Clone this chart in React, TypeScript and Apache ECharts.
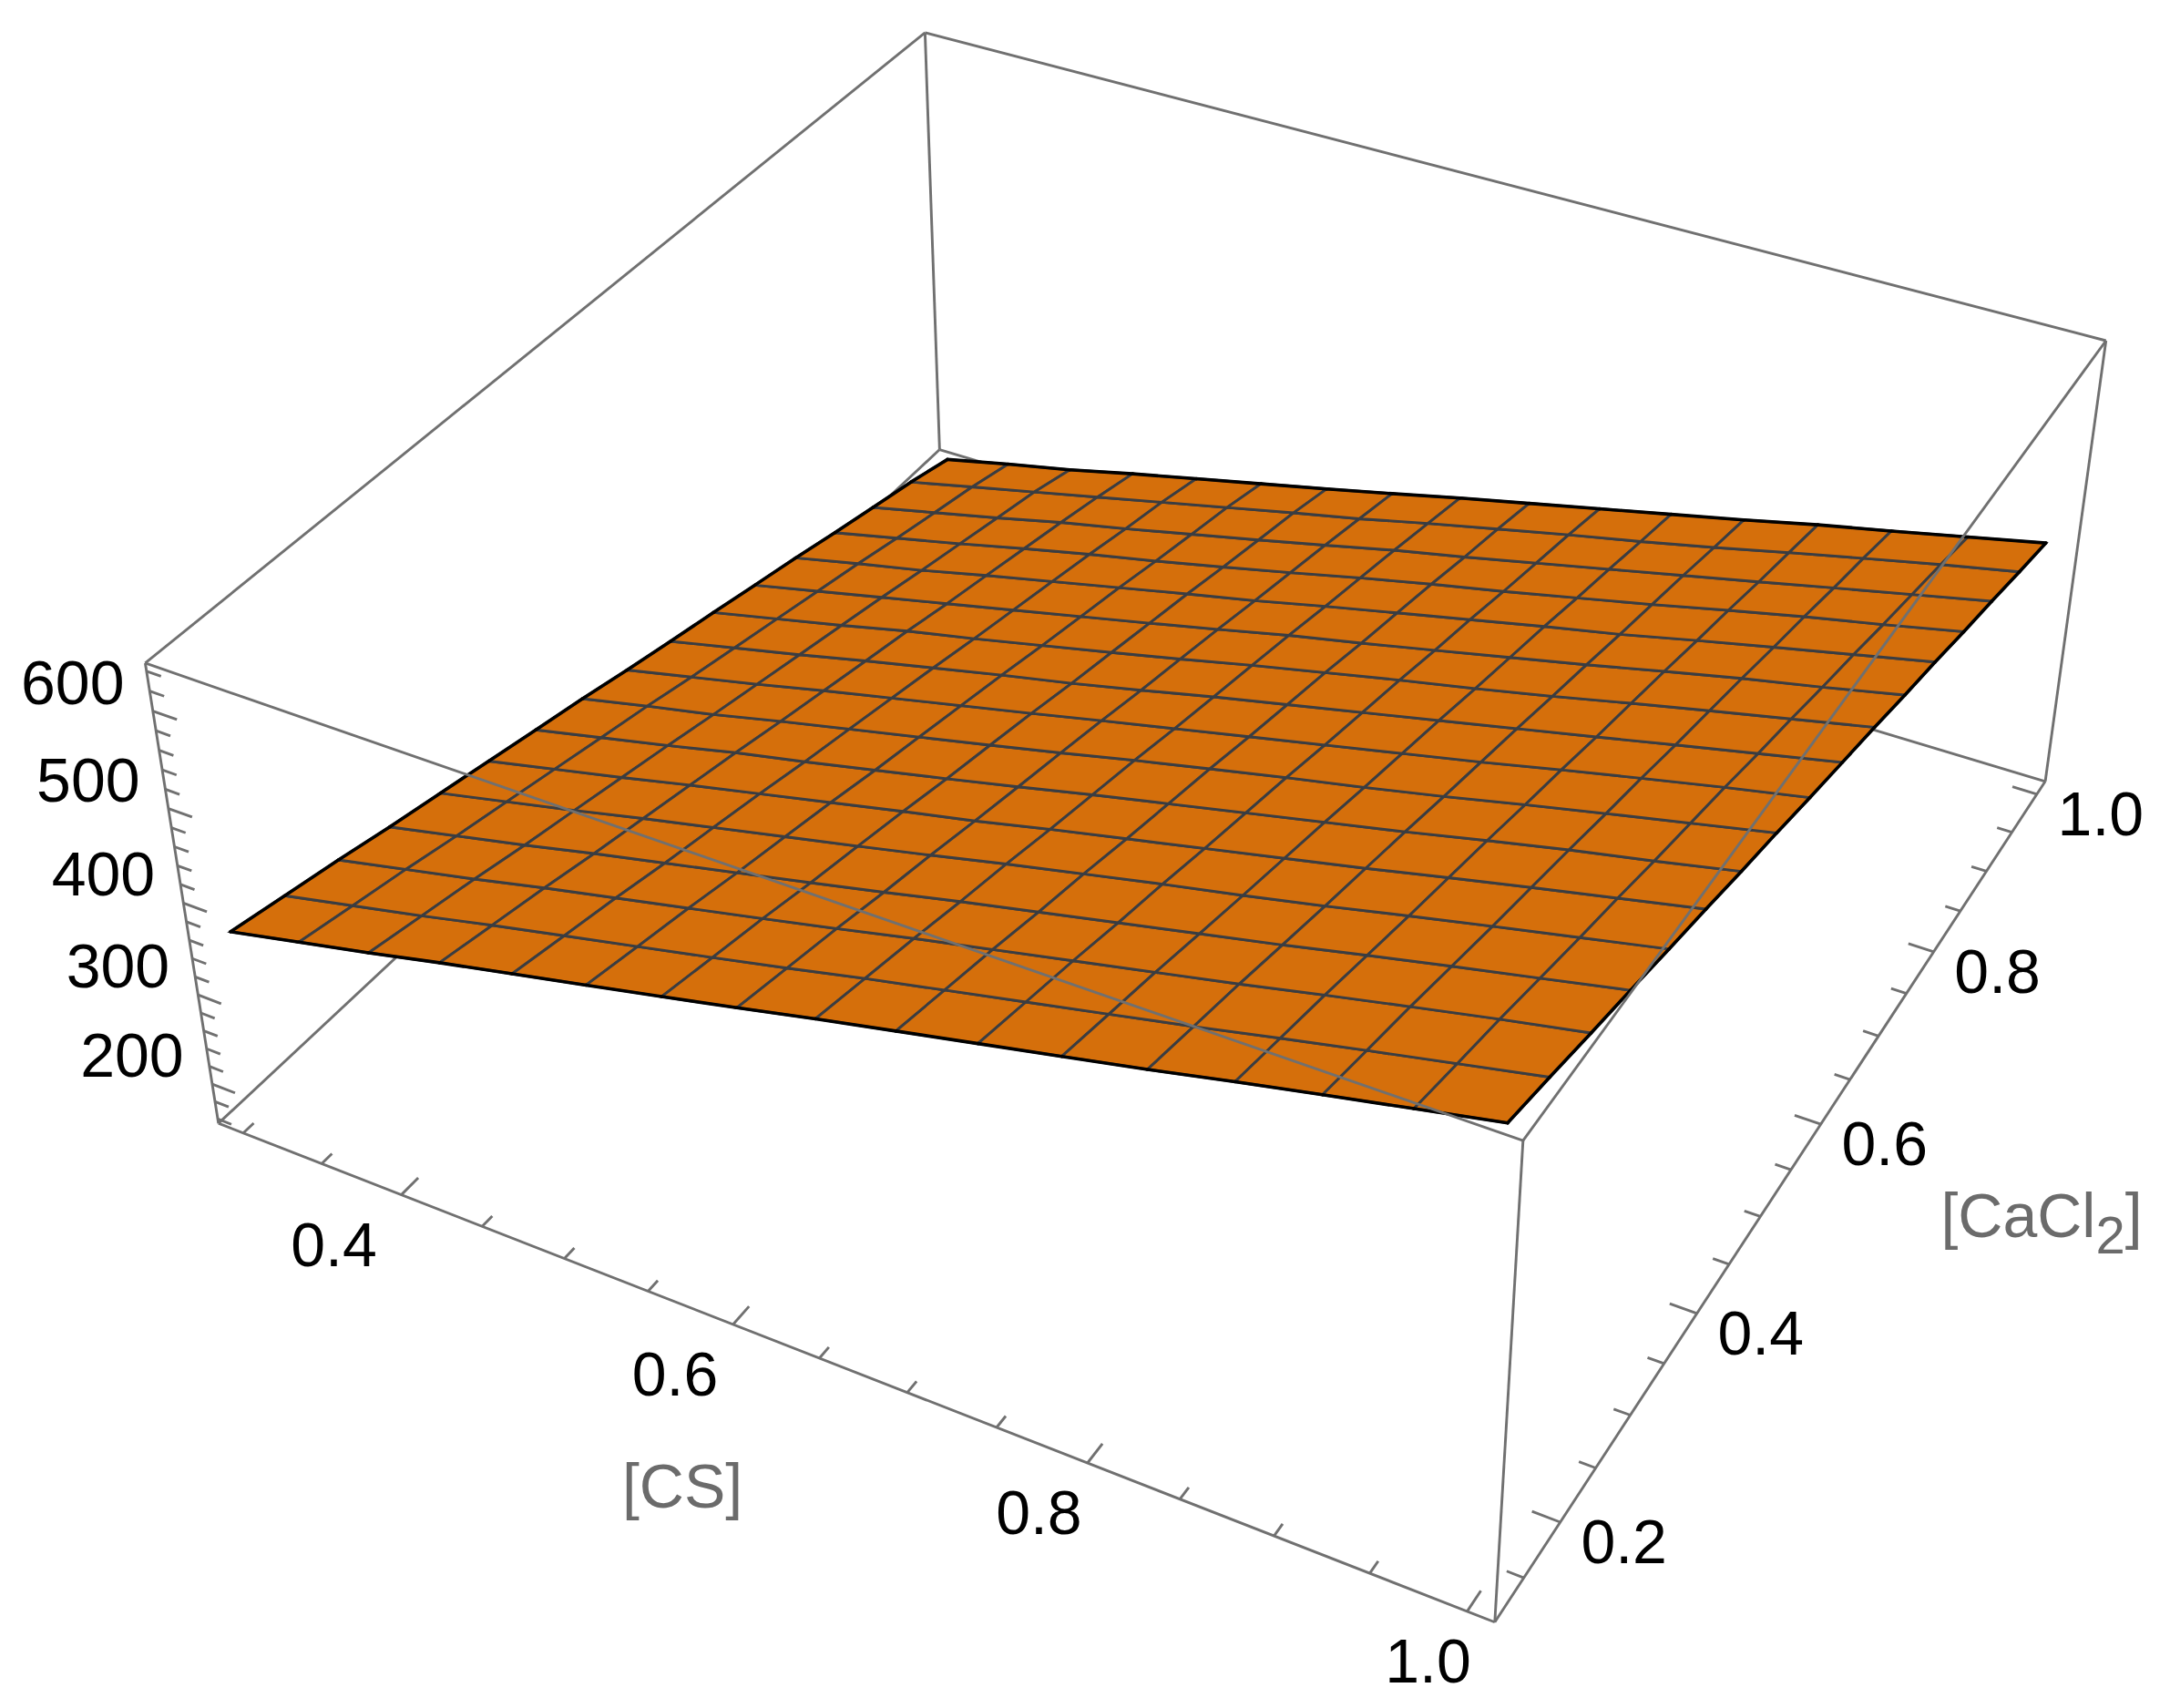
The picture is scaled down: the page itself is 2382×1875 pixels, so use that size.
import React, { useEffect, useRef } from "react";
import * as echarts from "echarts";

// ---------- data ----------
const csGrid = [0.298, 0.342, 0.386, 0.43, 0.474, 0.518, 0.562, 0.605, 0.649, 0.693, 0.737, 0.781, 0.825, 0.869, 0.912, 0.956, 1.0];
const caGrid = [0.13, 0.184, 0.239, 0.293, 0.348, 0.402, 0.456, 0.511, 0.565, 0.619, 0.674, 0.728, 0.783, 0.837, 0.891, 0.946, 1.0];
// rows: CaCl2 index, columns: CS index
const zRow00 = [360, 377, 394, 412, 429, 446, 463, 480, 498, 515, 532, 549, 566, 584, 601, 618, 635];
const zRow01 = [348, 365, 382, 400, 417, 434, 451, 468, 486, 503, 520, 537, 554, 572, 589, 606, 623];
const zRow02 = [336, 353, 370, 388, 405, 422, 439, 456, 474, 491, 508, 525, 542, 560, 577, 594, 610];
const zRow03 = [323, 340, 357, 375, 392, 409, 426, 443, 461, 478, 495, 512, 529, 547, 564, 581, 598];
const zRow04 = [311, 328, 345, 363, 380, 397, 414, 431, 449, 466, 483, 499, 516, 534, 551, 568, 585];
const zRow05 = [299, 316, 333, 351, 368, 385, 402, 418, 436, 453, 470, 487, 504, 522, 539, 556, 573];
const zRow06 = [287, 304, 321, 339, 355, 372, 389, 406, 424, 441, 458, 475, 492, 510, 527, 543, 560];
const zRow07 = [275, 292, 308, 326, 343, 360, 377, 394, 412, 429, 446, 462, 479, 497, 514, 531, 548];
const zRow08 = [262, 279, 296, 314, 331, 348, 365, 382, 399, 416, 433, 450, 467, 485, 502, 519, 535];
const zRow09 = [250, 267, 284, 302, 319, 336, 352, 369, 387, 404, 421, 438, 455, 472, 489, 506, 523];
const zRow10 = [238, 255, 272, 290, 306, 323, 340, 357, 375, 392, 409, 425, 442, 460, 477, 494, 511];
const zRow11 = [226, 243, 260, 277, 294, 311, 328, 345, 363, 379, 396, 413, 430, 448, 465, 481, 498];
const zRow12 = [214, 231, 247, 265, 282, 299, 316, 332, 350, 367, 384, 401, 417, 435, 452, 469, 486];
const zRow13 = [201, 218, 235, 253, 270, 286, 303, 320, 338, 355, 371, 388, 405, 423, 440, 456, 473];
const zRow14 = [189, 206, 223, 241, 257, 274, 291, 308, 326, 342, 359, 376, 393, 410, 427, 444, 461];
const zRow15 = [177, 194, 211, 228, 245, 262, 279, 295, 313, 330, 347, 363, 380, 398, 415, 432, 448];
const zRow16 = [163, 180, 196, 214, 231, 248, 265, 282, 300, 317, 334, 351, 368, 386, 402, 419, 436];
const zTable = [zRow00, zRow01, zRow02, zRow03, zRow04, zRow05, zRow06, zRow07, zRow08, zRow09, zRow10, zRow11, zRow12, zRow13, zRow14, zRow15, zRow16];

const csRange = [0.284, 1.014];
const caRange = [0.111, 1.017];
const zRange = [155, 648];

const csMajor = [0.4, 0.6, 0.8, 1.0];
const csMinor = [0.3, 0.35, 0.45, 0.5, 0.55, 0.65, 0.7, 0.75, 0.85, 0.9, 0.95];
const caMajor = [0.2, 0.4, 0.6, 0.8, 1.0];
const caMinor = [0.15, 0.25, 0.3, 0.35, 0.45, 0.5, 0.55, 0.65, 0.7, 0.75, 0.85, 0.9, 0.95];
const zMajor = [200, 300, 400, 500, 600];
const zMinor = [160, 180, 220, 240, 260, 280, 320, 340, 360, 380, 420, 440, 460, 480, 520, 540, 560, 580, 620, 640];

const csLabels = ["0.4", "0.6", "0.8", "1.0"];
const caLabels = ["0.2", "0.4", "0.6", "0.8", "1.0"];
const zLabels = ["200", "300", "400", "500", "600"];

// ---------- camera: fitted to the picture's box corners ----------
const boxFit: [number, number, number, number, number][] = [
  [0, 0, 0, 239, 1233],
  [1, 0, 0, 1641, 1780],
  [1, 1, 0, 2245, 858.6],
  [0, 1, 0, 1032, 493.5],
  [0, 0, 1, 160, 728],
  [1, 0, 1, 1672, 1253],
  [1, 1, 1, 2311.5, 373],
  [0, 1, 1, 1015, 36],
];

function solveCamera(): number[] {
  const n = 11;
  const A: number[][] = Array.from({ length: n }, () => new Array(n + 1).fill(0));
  const addRow = (r: number[], b: number) => {
    for (let i = 0; i < n; i++) {
      for (let j = 0; j < n; j++) A[i][j] += r[i] * r[j];
      A[i][n] += r[i] * b;
    }
  };
  for (const [X, Y, Z, x, y] of boxFit) {
    addRow([X, Y, Z, 1, 0, 0, 0, 0, -x * X, -x * Y, -x * Z], x);
    addRow([0, 0, 0, 0, X, Y, Z, 1, -y * X, -y * Y, -y * Z], y);
  }
  for (let c = 0; c < n; c++) {
    let p = c;
    for (let r = c + 1; r < n; r++) if (Math.abs(A[r][c]) > Math.abs(A[p][c])) p = r;
    [A[c], A[p]] = [A[p], A[c]];
    for (let r = 0; r < n; r++) {
      if (r === c) continue;
      const f = A[r][c] / A[c][c];
      for (let k = c; k <= n; k++) A[r][k] -= f * A[c][k];
    }
  }
  return A.map((row, i) => row[n] / row[i]);
}
const cam = solveCamera();

function project(cs: number, ca: number, z: number): [number, number] {
  const X = (cs - csRange[0]) / (csRange[1] - csRange[0]);
  const Y = (ca - caRange[0]) / (caRange[1] - caRange[0]);
  const Z = (z - zRange[0]) / (zRange[1] - zRange[0]);
  const d = cam[8] * X + cam[9] * Y + cam[10] * Z + 1;
  return [
    (cam[0] * X + cam[1] * Y + cam[2] * Z + cam[3]) / d,
    (cam[4] * X + cam[5] * Y + cam[6] * Z + cam[7]) / d,
  ];
}

// ---------- styles ----------
const FONT = "'Liberation Sans', Arial, sans-serif";
const BOX = "#707070";
const ORANGE = "#D56F0B";
const MESH = "#3a3d42";
const LW = 2.9;

const [c0, c1] = csRange;
const [a0, a1] = caRange;
const [z0, z1] = zRange;
type Seg = [number, number, number, number, number, number];
const backEdges: Seg[] = [
  [c0, a0, z0, c1, a0, z0], [c1, a0, z0, c1, a1, z0], [c1, a1, z0, c0, a1, z0], [c0, a1, z0, c0, a0, z0],
  [c0, a0, z0, c0, a0, z1], [c1, a0, z0, c1, a0, z1], [c1, a1, z0, c1, a1, z1], [c0, a1, z0, c0, a1, z1],
  [c0, a1, z1, c1, a1, z1], [c0, a1, z1, c0, a0, z1],
];
const frontEdges: Seg[] = [
  [c0, a0, z1, c1, a0, z1], [c1, a0, z1, c1, a1, z1],
];

function segSeries(name: string, segs: number[][], zLevel: number, width: number) {
  return {
    type: "custom", name, silent: true, clip: false, z: zLevel, animation: false,
    data: segs,
    renderItem: (_p: any, api: any) => {
      const a = project(api.value(0), api.value(1), api.value(2));
      const b = project(api.value(3), api.value(4), api.value(5));
      const pa = api.coord(a);
      const pb = api.coord(b);
      return {
        type: "line",
        shape: { x1: pa[0], y1: pa[1], x2: pb[0], y2: pb[1] },
        style: { stroke: BOX, lineWidth: width, fill: null },
      };
    },
  };
}

const csSpan = c1 - c0;
const caSpan = a1 - a0;
const MAJOR_LEN = 0.02;
const MINOR_LEN = 0.012;

function tickSegs(): number[][] {
  const out: number[][] = [];
  const push = (vals: number[], len: number) => {
    for (const v of vals) out.push([v, a0, z0, v, a0 + caSpan * len, z0]);
  };
  push(csMajor, MAJOR_LEN);
  push(csMinor, MINOR_LEN);
  const pushCa = (vals: number[], len: number) => {
    for (const v of vals) out.push([c1, v, z0, c1 - csSpan * len, v, z0]);
  };
  pushCa(caMajor, MAJOR_LEN);
  pushCa(caMinor, MINOR_LEN);
  const pushZ = (vals: number[], len: number) => {
    for (const v of vals) out.push([c0, a0, v, c0 + csSpan * len, a0, v]);
  };
  pushZ(zMajor, MAJOR_LEN);
  pushZ(zMinor, MINOR_LEN);
  return out;
}

function labelItems() {
  const items: any[] = [];
  csMajor.forEach((v, i) => {
    const p = project(v, a0, z0);
    items.push([p[0] - 74 + ((v - 0.4) / 0.6) * 31, p[1] + 54, csLabels[i]]);
  });
  caMajor.forEach((v, i) => {
    const p = project(c1, v, z0);
    items.push([p[0] + 70, p[1] + 21, caLabels[i]]);
  });
  zMajor.forEach((v, i) => {
    const p = project(c0, a0, v);
    items.push([p[0] - 88, p[1] - 32, zLabels[i]]);
  });
  return items;
}

function surfaceCells(): number[][] {
  const out: number[][] = [];
  for (let j = 0; j < caGrid.length - 1; j++) {
    for (let i = 0; i < csGrid.length - 1; i++) {
      out.push([i, j, zTable[j][i], zTable[j][i + 1], zTable[j + 1][i + 1], zTable[j + 1][i]]);
    }
  }
  return out;
}

function boundary(): number[][] {
  const n = csGrid.length - 1;
  const out: number[][] = [];
  for (let i = 0; i < n; i++) {
    out.push([csGrid[i], caGrid[0], zTable[0][i], csGrid[i + 1], caGrid[0], zTable[0][i + 1]]);
    out.push([csGrid[i], caGrid[n], zTable[n][i], csGrid[i + 1], caGrid[n], zTable[n][i + 1]]);
    out.push([csGrid[0], caGrid[i], zTable[i][0], csGrid[0], caGrid[i + 1], zTable[i + 1][0]]);
    out.push([csGrid[n], caGrid[i], zTable[i][n], csGrid[n], caGrid[i + 1], zTable[i + 1][n]]);
  }
  return out;
}

export default function App() {
  const ref = useRef<HTMLDivElement | null>(null);
  useEffect(() => {
    const chart = echarts.init(ref.current!, undefined, { renderer: "svg" });
    const option: any = {
      animation: false,
      backgroundColor: "#ffffff",
      grid: { left: 0, right: 0, top: 0, bottom: 0, containLabel: false },
      xAxis: { type: "value", min: 0, max: 2382, show: false },
      yAxis: { type: "value", min: 0, max: 1875, inverse: true, show: false },
      series: [
        segSeries("box-back", backEdges, 1, LW),
        segSeries("ticks", tickSegs(), 1, LW),
        {
          type: "custom", name: "surface", silent: true, clip: false, z: 2,
          data: surfaceCells(),
          renderItem: (_p: any, api: any) => {
            const i = api.value(0);
            const j = api.value(1);
            const pts = [
              project(csGrid[i], caGrid[j], api.value(2)),
              project(csGrid[i + 1], caGrid[j], api.value(3)),
              project(csGrid[i + 1], caGrid[j + 1], api.value(4)),
              project(csGrid[i], caGrid[j + 1], api.value(5)),
            ].map((p) => api.coord(p));
            return {
              type: "polygon",
              shape: { points: pts },
              style: { fill: ORANGE, stroke: MESH, lineWidth: 2.9 },
            };
          },
        },
        {
          type: "custom", name: "surface-edge", silent: true, clip: false, z: 3,
          data: boundary(),
          renderItem: (_p: any, api: any) => {
            const a = api.coord(project(api.value(0), api.value(1), api.value(2)));
            const b = api.coord(project(api.value(3), api.value(4), api.value(5)));
            return {
              type: "line",
              shape: { x1: a[0], y1: a[1], x2: b[0], y2: b[1] },
              style: { stroke: "#000000", lineWidth: 3.6, lineCap: "round" },
            };
          },
        },
        segSeries("box-front", frontEdges, 4, LW),
        {
          type: "custom", name: "tick-labels", silent: true, clip: false, z: 5,
          data: labelItems(),
          dimensions: ["x", "y", { name: "t", type: "ordinal" }],
          renderItem: (p: any, api: any) => {
            const item = option.series[5].data[p.dataIndex];
            const c = api.coord([item[0], item[1]]);
            return {
              type: "text",
              style: {
                text: item[2], x: c[0], y: c[1], fill: "#000000",
                fontSize: 68, fontFamily: FONT, align: "center", verticalAlign: "middle",
              },
            };
          },
        },
        {
          type: "custom", name: "axis-titles", silent: true, clip: false, z: 5,
          data: [[749, 1631, 0], [2241, 1334, 1]],
          renderItem: (_p: any, api: any) => {
            const c = api.coord([api.value(0), api.value(1)]);
            if (api.value(2) === 0) {
              return {
                type: "text",
                style: {
                  text: "[CS]", x: c[0], y: c[1], fill: "#6b6b6b",
                  fontSize: 68, fontFamily: FONT, align: "center", verticalAlign: "middle",
                },
              };
            }
            return {
              type: "text",
              style: {
                text: "{a|[CaCl}{b|2}{a|]}", x: c[0], y: c[1], fill: "#6b6b6b",
                align: "center", verticalAlign: "middle",
                fontFamily: FONT,
                rich: {
                  a: { fontSize: 68, fontFamily: FONT, fill: "#6b6b6b", lineHeight: 100 },
                  b: { fontSize: 58, fontFamily: FONT, fill: "#6b6b6b", lineHeight: 58, verticalAlign: "bottom" },
                },
              },
            };
          },
        },
      ],
    };
    chart.setOption(option);
    return () => chart.dispose();
  }, []);
  return (
    <div
      ref={ref}
      style={{ position: "absolute", left: 0, top: 0, width: 2382, height: 1875, background: "#fff" }}
    />
  );
}
